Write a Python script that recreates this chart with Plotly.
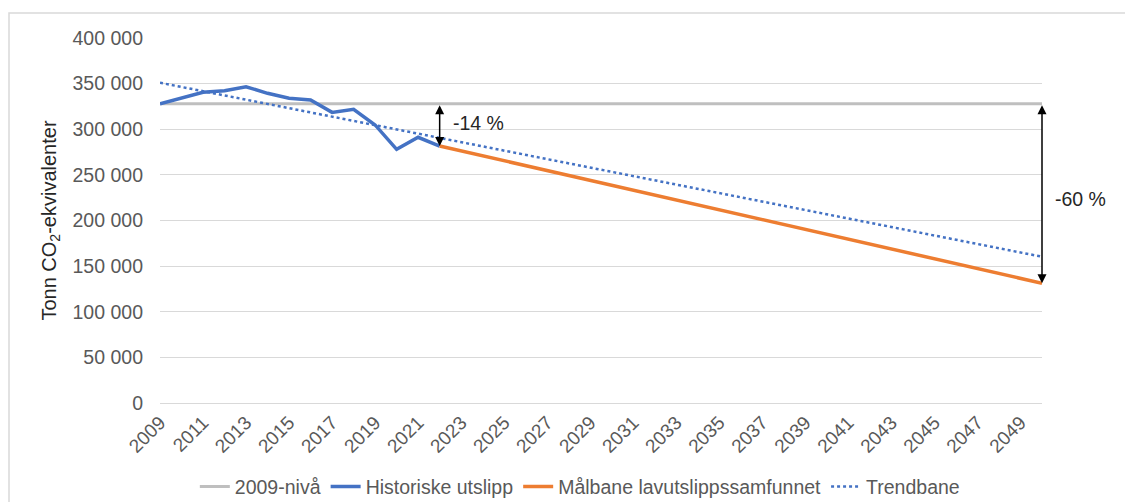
import plotly.graph_objects as go

# ---- data ----
hist_years = [2009, 2010, 2011, 2012, 2013, 2014, 2015, 2016, 2017, 2018, 2019, 2020, 2021, 2022]
hist_values = [328000, 334000, 340500, 342300, 346600, 339400, 333900, 332000, 318500, 321800, 304700, 278000, 291200, 281600]

level_years = [2009, 2050]
level_values = [328000, 328000]

target_years = [2022, 2050]
target_values = [281600, 131200]

trend_years = [2009, 2050]
trend_values = [351000, 160300]

x_tick_years = list(range(2009, 2050, 2))
y_tick_vals = list(range(0, 400001, 50000))
y_tick_text = ["0", "50 000", "100 000", "150 000", "200 000", "250 000", "300 000", "350 000", "400 000"]

pct_labels = ["-14 %", "-60 %"]
pct_label_y = [306800, 223600]

FONT = "Liberation Sans, Arial, sans-serif"
GRAY = "#595959"

fig = go.Figure()
fig.add_trace(go.Scatter(x=level_years, y=level_values, mode="lines", name="2009-nivå",
                         line=dict(color="#bfbfbf", width=3)))
fig.add_trace(go.Scatter(x=hist_years, y=hist_values, mode="lines", name="Historiske utslipp",
                         line=dict(color="#4472c4", width=3.5)))
fig.add_trace(go.Scatter(x=target_years, y=target_values, mode="lines", name="Målbane lavutslippssamfunnet",
                         line=dict(color="#ed7d31", width=3.5)))
fig.add_trace(go.Scatter(x=trend_years, y=trend_values, mode="lines", name="Trendbane",
                         line=dict(color="#4472c4", width=2.5, dash="dot")))

# arrows
arrow_defs = [
    (target_years[0], level_values[0], target_values[0], pct_labels[0], pct_label_y[0]),
    (target_years[-1], level_values[-1], target_values[-1], pct_labels[1], pct_label_y[1]),
]
for xa, ytop, ybot, label, ylab in arrow_defs:
    fig.add_annotation(x=xa, y=ybot, ax=xa, ay=ytop, xref="x", yref="y", axref="x", ayref="y",
                       text="", showarrow=True, arrowhead=2, startarrowhead=2, arrowside="end+start",
                       arrowsize=1.2, startarrowsize=1.2, arrowwidth=1.5, arrowcolor="#000000")
    fig.add_annotation(x=xa, y=ylab, xref="x", yref="y", text=label, showarrow=False,
                       xanchor="left", xshift=11, font=dict(family=FONT, size=19.5, color="#262626"))

# outer frame
fig.add_shape(type="rect", xref="paper", yref="paper", x0=-0.1712, x1=1.1, y0=-0.3, y1=1.0685,
              line=dict(color="#d9d9d9", width=1.5), fillcolor="rgba(0,0,0,0)", layer="below")

fig.update_layout(
    width=1125, height=502, autosize=False,
    margin=dict(l=160, r=83, t=38, b=99, autoexpand=False),
    paper_bgcolor="white", plot_bgcolor="white",
    font=dict(family=FONT, color=GRAY),
    showlegend=True,
    legend=dict(orientation="h", x=0.476, xanchor="center", y=0.03, yref="container", yanchor="middle",
                font=dict(family=FONT, size=19.5, color=GRAY), bgcolor="rgba(0,0,0,0)",
                traceorder="normal"),
)
fig.update_xaxes(range=[2009, 2050], tickmode="array", tickvals=x_tick_years,
                 ticktext=[str(y) for y in x_tick_years], tickangle=-45,
                 tickfont=dict(family=FONT, size=19, color=GRAY),
                 showgrid=False, zeroline=False, showline=True, linecolor="#d9d9d9", linewidth=1,
                 ticks="", automargin=False)
fig.update_yaxes(range=[0, 400000], tickmode="array", tickvals=y_tick_vals, ticktext=y_tick_text,
                 tickfont=dict(family=FONT, size=19.5, color=GRAY),
                 showgrid=True, gridcolor="#d9d9d9", gridwidth=1, zeroline=False, showline=False,
                 ticklabelstandoff=16, automargin=False,
                 title=dict(text="Tonn CO<sub>2</sub>-ekvivalenter", standoff=10,
                            font=dict(family=FONT, size=20, color="#262626")))

fig.write_html("out.html", config={"displayModeBar": False},
               post_script="document.body.style.margin='0';document.body.style.padding='0';")
